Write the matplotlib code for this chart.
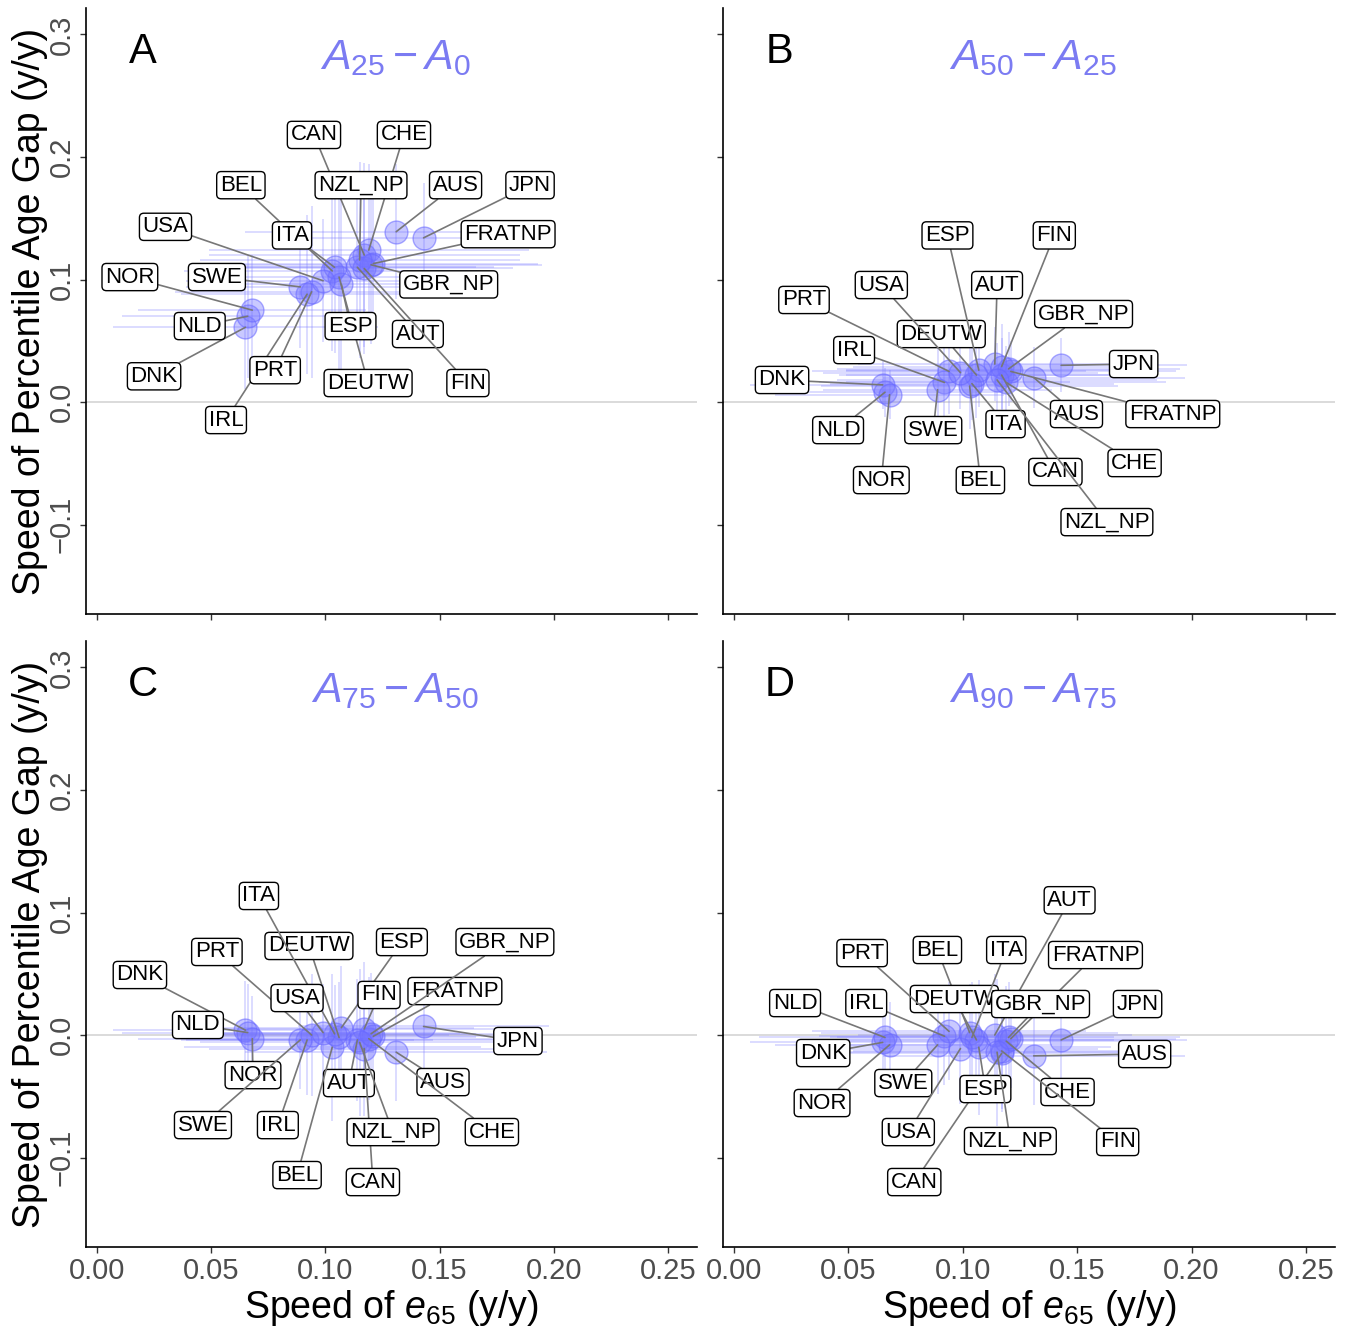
import numpy as np
import matplotlib
matplotlib.use("Agg")
import matplotlib.pyplot as plt

plt.rcParams['font.family'] = ['Liberation Sans', 'DejaVu Sans']
plt.rcParams['mathtext.fontset'] = 'custom'
plt.rcParams['mathtext.rm'] = 'Liberation Sans'
plt.rcParams['mathtext.it'] = 'Liberation Sans:italic'

countries = ['AUS', 'AUT', 'BEL', 'CAN', 'CHE', 'DEUTW', 'DNK', 'ESP', 'FIN', 'FRATNP',
             'GBR_NP', 'IRL', 'ITA', 'JPN', 'NLD', 'NOR', 'NZL_NP', 'PRT', 'SWE', 'USA']

# speed of e65 (same in every panel) and its uncertainty
speed_e65 = [0.131, 0.114, 0.103, 0.117, 0.119, 0.106, 0.065, 0.107, 0.117, 0.121,
             0.120, 0.092, 0.104, 0.143, 0.066, 0.068, 0.115, 0.094, 0.089, 0.099]
speed_e65_err = [0.066, 0.060, 0.065, 0.068, 0.070, 0.060, 0.058, 0.058, 0.065, 0.072,
                 0.075, 0.055, 0.062, 0.055, 0.055, 0.050, 0.070, 0.060, 0.050, 0.060]

# speed of percentile age gap per panel
gap_A = [0.139, 0.110, 0.107, 0.120, 0.124, 0.102, 0.061, 0.096, 0.109, 0.113,
         0.112, 0.088, 0.110, 0.134, 0.070, 0.075, 0.116, 0.090, 0.094, 0.099]
gap_B = [0.020, 0.031, 0.013, 0.022, 0.016, 0.022, 0.014, 0.026, 0.029, 0.025,
         0.027, 0.016, 0.015, 0.030, 0.008, 0.006, 0.018, 0.025, 0.010, 0.024]
gap_C = [-0.014, -0.004, -0.010, -0.011, -0.003, -0.002, 0.004, 0.006, 0.005, -0.001,
         0.001, -0.004, 0.001, 0.007, 0.002, -0.003, -0.006, 0.000, -0.004, 0.002]
gap_D = [-0.017, 0.000, 0.002, -0.015, -0.005, -0.004, -0.006, -0.010, -0.013, -0.003,
         -0.002, -0.001, -0.002, -0.004, -0.002, -0.008, -0.014, 0.003, -0.008, -0.011]

gap_err_A = [0.055, 0.060, 0.065, 0.075, 0.070, 0.085, 0.050, 0.075, 0.070, 0.060,
             0.065, 0.065, 0.070, 0.045, 0.050, 0.045, 0.080, 0.070, 0.050, 0.050]
gap_err_B = [0.025, 0.030, 0.035, 0.030, 0.030, 0.035, 0.020, 0.030, 0.035, 0.025,
             0.030, 0.030, 0.030, 0.022, 0.020, 0.020, 0.030, 0.035, 0.035, 0.030]
gap_err_C = [0.040, 0.050, 0.060, 0.055, 0.050, 0.045, 0.040, 0.050, 0.055, 0.045,
             0.050, 0.045, 0.040, 0.035, 0.040, 0.035, 0.060, 0.050, 0.040, 0.040]
gap_err_D = [0.040, 0.050, 0.040, 0.045, 0.045, 0.040, 0.030, 0.055, 0.050, 0.040,
             0.045, 0.040, 0.045, 0.035, 0.030, 0.035, 0.060, 0.040, 0.040, 0.045]

# repelled label placements (data units), same country order
lab_A = [(0.157, 0.177), (0.1405, 0.0555), (0.063, 0.177), (0.095, 0.218), (0.1344, 0.218),
         (0.1187, 0.0155), (0.025, 0.021), (0.111, 0.062), (0.1624, 0.0155), (0.180, 0.137),
         (0.154, 0.096), (0.0565, -0.0147), (0.0854, 0.136), (0.1896, 0.177), (0.045, 0.062),
         (0.0144, 0.102), (0.1156, 0.177), (0.078, 0.026), (0.0525, 0.102), (0.030, 0.143)]
lab_B = [(0.1497, -0.0098), (0.115, 0.0955), (0.1077, -0.0637), (0.1405, -0.0571), (0.1751, -0.0498),
         (0.0906, 0.0555), (0.021, 0.018), (0.0933, 0.136), (0.140, 0.136), (0.1918, -0.0098),
         (0.1528, 0.0718), (0.0525, 0.0424), (0.1187, -0.018), (0.1747, 0.031), (0.0455, -0.0229),
         (0.0644, -0.0637), (0.163, -0.098), (0.0306, 0.0833), (0.0871, -0.0229), (0.0644, 0.0955)]
lab_C = [(0.1515, -0.0384), (0.1103, -0.0392), (0.0876, -0.1143), (0.1208, -0.12), (0.1729, -0.0792),
         (0.0928, 0.0727), (0.0188, 0.049), (0.1335, 0.0759), (0.1235, 0.0327), (0.1567, 0.0359),
         (0.1786, 0.0759), (0.0792, -0.0735), (0.0709, 0.1135), (0.1843, -0.0049), (0.0442, 0.0082),
         (0.0683, -0.0327), (0.1296, -0.0792), (0.0525, 0.0678), (0.0464, -0.0735), (0.0876, 0.0302)]
lab_D = [(0.1795, -0.0155), (0.1467, 0.110), (0.0889, 0.0694), (0.0788, -0.12), (0.1458, -0.0465),
         (0.0963, 0.0294), (0.039, -0.0147), (0.1099, -0.0441), (0.1677, -0.0873), (0.158, 0.0653),
         (0.134, 0.0253), (0.0578, 0.0261), (0.119, 0.0694), (0.1764, 0.0253), (0.0267, 0.0261),
         (0.0385, -0.0555), (0.1208, -0.0865), (0.056, 0.0669), (0.074, -0.0392), (0.0762, -0.0792)]

panel_letters = ['A', 'B', 'C', 'D']
panel_titles = [r'$A_{25} - A_{0}$', r'$A_{50} - A_{25}$', r'$A_{75} - A_{50}$', r'$A_{90} - A_{75}$']
gaps = [gap_A, gap_B, gap_C, gap_D]
gap_errs = [gap_err_A, gap_err_B, gap_err_C, gap_err_D]
labels = [lab_A, lab_B, lab_C, lab_D]

W, H = 1349, 1327
fig = plt.figure(figsize=(W / 100, H / 100), dpi=100)

# axes boxes in pixels: left, top, right, bottom
boxes = [(86, 8, 697, 614), (723, 8, 1335, 614), (86, 641, 697, 1247), (723, 641, 1335, 1247)]

for i in range(4):
    l, t, r, b = boxes[i]
    ax = fig.add_axes([l / W, 1 - b / H, (r - l) / W, (b - t) / H])
    ax.set_xlim(-0.0048, 0.2627)
    ax.set_ylim(-0.173, 0.3216)
    ax.axhline(0, color='#d4d4d4', lw=1.2, zorder=0)

    ax.errorbar(speed_e65, gaps[i], xerr=speed_e65_err, yerr=gap_errs[i], fmt='none',
                ecolor=(0.5, 0.5, 1.0, 0.3), elinewidth=1.3, capsize=0, zorder=1)
    ax.scatter(speed_e65, gaps[i], s=270, facecolors=(0.45, 0.45, 1.0, 0.38),
               edgecolors=(0.4, 0.4, 1.0, 0.55), linewidths=1, zorder=2)

    for j, name in enumerate(countries):
        ax.annotate(name, xy=(speed_e65[j], gaps[i][j]), xytext=labels[i][j],
                    ha='center', va='center', fontsize=16, zorder=5,
                    bbox=dict(boxstyle='round,pad=0.14,rounding_size=0.2', fc='white', ec='black', lw=1),
                    arrowprops=dict(arrowstyle='-', color='#777777', lw=1.2, shrinkA=0, shrinkB=0))

    ax.text(0.093, 0.927, panel_letters[i], transform=ax.transAxes, fontsize=30,
            ha='center', va='center')
    ax.text(0.506, 0.917, panel_titles[i], transform=ax.transAxes, fontsize=31,
            ha='center', va='center', color='#7b7bf2')

    ax.set_xticks([0, 0.05, 0.10, 0.15, 0.20, 0.25])
    ax.set_yticks([-0.1, 0.0, 0.1, 0.2, 0.3])
    ax.spines['top'].set_visible(False)
    ax.spines['right'].set_visible(False)
    ax.spines['left'].set_linewidth(1.2)
    ax.spines['bottom'].set_linewidth(1.2)
    ax.tick_params(direction='out', length=4, width=1, color='#333333',
                   labelsize=21, labelcolor='#4d4d4d')
    if i in (0, 2):
        ax.set_yticklabels(['\u22120.1', '0.0', '0.1', '0.2', '0.3'], rotation=90, va='center')
        ax.set_ylabel('Speed of Percentile Age Gap (y/y)', fontsize=27, labelpad=0)
    else:
        ax.set_yticklabels([])
    if i in (2, 3):
        ax.set_xticklabels(['0.00', '0.05', '0.10', '0.15', '0.20', '0.25'])
        ax.set_xlabel(r'Speed of $e_{65}$ (y/y)', fontsize=27, labelpad=2)
    else:
        ax.set_xticklabels([])

fig.savefig('out.png', dpi=100)
